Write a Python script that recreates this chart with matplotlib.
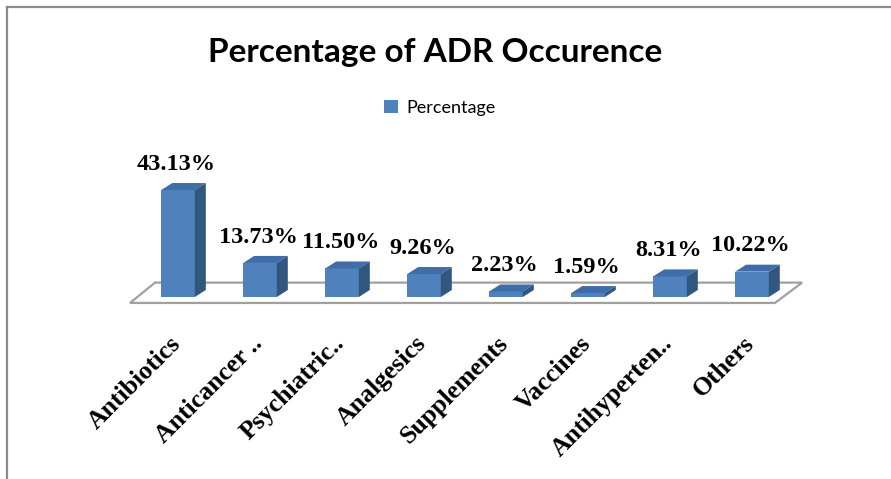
import matplotlib
matplotlib.use("Agg")
import matplotlib.pyplot as plt
import matplotlib.transforms as mtransforms
from matplotlib.patches import Polygon
from matplotlib.lines import Line2D

# data
categories = ["Antibiotics", "Anticancer ..", "Psychiatric..", "Analgesics",
              "Supplements", "Vaccines", "Antihyperten..", "Others"]
percentages = [43.13, 13.73, 11.50, 9.26, 2.23, 1.59, 8.31, 10.22]
labels = ["43.13%", "13.73%", "11.50%", "9.26%", "2.23%", "1.59%", "8.31%", "10.22%"]

W, H = 891, 479
fig = plt.figure(figsize=(W / 100, H / 100), dpi=100)

# axes placed in pixel terms: x index 0 -> 178 px, 7 -> 752 px; y 0 -> 297 px
xlo, xhi = -0.7, 7.7
ylo, yhi = -3, 50
px_per_x = 82.0
px_per_y = 2.48
left = 178 - px_per_x * (0 - xlo)
right = 752 + px_per_x * (xhi - 7)
bottom = 297 + px_per_y * (0 - ylo)
top = 297 - px_per_y * yhi
ax = fig.add_axes([left / W, 1 - bottom / H, (right - left) / W, (bottom - top) / H])
ax.set_xlim(xlo, xhi)
ax.set_ylim(ylo, yhi)
ax.axis("off")

front = "#4F81BD"
top_c = "#3F6DA8"
side_c = "#32577F"
bw = 0.41

# depth offset of the 3D look, in pixels
ddx, ddy = 11, 7
shift = ax.transData + mtransforms.ScaledTranslation(ddx / 100, ddy / 100, fig.dpi_scale_trans)

# floor (parallelogram) under the bars
floor_x = [-0.585, 7.28, 7.61, -0.28]
floor_y = [-2.4, -2.4, 5.8, 5.8]
floor = Polygon(list(zip(floor_x, floor_y)), closed=True, facecolor="white",
                edgecolor="#A0A0A0", linewidth=1.6, zorder=1, clip_on=False)
ax.add_patch(floor)

bars = ax.bar(range(len(categories)), percentages, width=bw, color=front,
              edgecolor="none", zorder=3, label="Percentage")

for i, v in enumerate(percentages):
    xl, xr = i - bw / 2, i + bw / 2
    # top face
    p0 = ax.transData.transform((xl, v))
    p1 = ax.transData.transform((xr, v))
    p2 = shift.transform((xr, v))
    p3 = shift.transform((xl, v))
    ax.add_artist(Polygon([p0, p1, p2, p3], closed=True, facecolor=top_c,
                          edgecolor="none", transform=None, zorder=3))
    # side face
    q0 = ax.transData.transform((xr, 0))
    q1 = ax.transData.transform((xr, v))
    q2 = shift.transform((xr, v))
    q3 = shift.transform((xr, 0))
    ax.add_artist(Polygon([q0, q1, q2, q3], closed=True, facecolor=side_c,
                          edgecolor="none", transform=None, zorder=3))
    ax.annotate(labels[i], xy=(i, v), xytext=(-1, 11), textcoords="offset points",
                ha="center", va="bottom", fontsize=17.5, fontweight="bold",
                family="Liberation Serif", zorder=5, annotation_clip=False)

# rotated category labels
for i, name in enumerate(categories):
    ax.text(i - 0.11, -14, name, rotation=45, rotation_mode="anchor",
            ha="right", va="top", fontsize=18.5, fontweight="bold",
            family="Liberation Serif", clip_on=False)

fig.text(435 / W, 1 - 62 / H, "Percentage of ADR Occurence", ha="center",
         va="baseline", fontsize=24, fontweight="bold", family="Lato")

fig.legend(handles=[bars], labels=["Percentage"], loc="center",
           bbox_to_anchor=(440 / W, 1 - 108 / H), frameon=False,
           handlelength=0.75, handleheight=0.75, handletextpad=0.5,
           prop={"family": "Lato", "size": 13})

# border of the chart area (left and top edges only visible)
fig.add_artist(Line2D([7 / W, 7 / W], [0, 1 - 7 / H], color="#8C8C8C", lw=1.6,
                      transform=fig.transFigure))
fig.add_artist(Line2D([7 / W, 1], [1 - 7 / H, 1 - 7 / H], color="#8C8C8C", lw=1.6,
                      transform=fig.transFigure))

fig.savefig("out.png", dpi=100, facecolor="white")
